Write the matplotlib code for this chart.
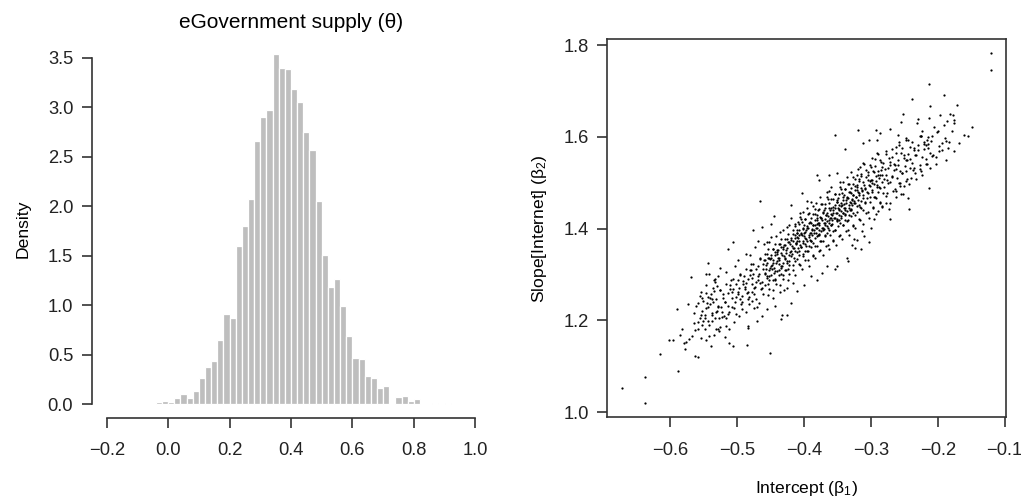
import numpy as np
import matplotlib.pyplot as plt

plt.rcParams['font.family'] = ['Liberation Sans', 'DejaVu Sans']
plt.rcParams['mathtext.fontset'] = 'custom'
plt.rcParams['mathtext.rm'] = 'Liberation Sans'
plt.rcParams['mathtext.it'] = 'Liberation Sans'

# posterior of theta, density per 0.02 bin (first bin starts at -0.04)
bin_start = -0.04
bin_width = 0.02
theta_density = [0.017, 0.03, 0.02, 0.057, 0.10, 0.057, 0.13, 0.26, 0.37, 0.44,
                 0.65, 0.91, 0.87, 1.60, 1.80, 2.07, 2.66, 2.90, 2.97, 3.54,
                 3.40, 3.39, 3.19, 3.05, 2.75, 2.57, 2.05, 1.51, 1.18, 1.26,
                 0.99, 0.69, 0.47, 0.455, 0.28, 0.26, 0.16, 0.18, 0.0, 0.067,
                 0.08, 0.03, 0.047, 0.0, 0.0, 0.013, 0.0, 0.007]
theta_ticks = [-0.2, 0.0, 0.2, 0.4, 0.6, 0.8, 1.0]

# joint draws of intercept (beta1) and slope (beta2), "x y" pairs
draws_txt = """
-0.672 1.052 -0.638 1.019 -0.638 1.077 -0.588 1.090 -0.616 1.127 -0.559 1.121
-0.602 1.156 -0.596 1.156 -0.590 1.224 -0.582 1.182 -0.578 1.138 -0.569 1.294
-0.544 1.324 -0.573 1.235 -0.586 1.168 -0.580 1.151 -0.572 1.159 -0.567 1.166
-0.565 1.195 -0.556 1.204 -0.559 1.180 -0.554 1.162 -0.548 1.180 -0.542 1.166
-0.539 1.143 -0.518 1.164 -0.512 1.180 -0.512 1.150 -0.531 1.182 -0.528 1.182
-0.554 1.212 -0.551 1.198 -0.552 1.220 -0.559 1.238 -0.552 1.249 -0.545 1.238
-0.537 1.246 -0.537 1.217 -0.530 1.220 -0.527 1.206 -0.525 1.267 -0.520 1.209
-0.546 1.260 -0.542 1.300 -0.535 1.289 -0.530 1.275 -0.526 1.315 -0.451 1.128
-0.484 1.184 -0.485 1.147 -0.506 1.144 -0.434 1.202 -0.563 1.122 -0.576 1.153
-0.506 1.371 -0.514 1.356 -0.546 1.302 -0.533 1.291 -0.465 1.461 -0.420 1.451
-0.476 1.398 -0.463 1.404 -0.450 1.409 -0.445 1.427 -0.403 1.478 -0.395 1.460
-0.378 1.507 -0.363 1.518 -0.350 1.522 -0.380 1.518 -0.323 1.357 -0.336 1.337
-0.354 1.311 -0.365 1.318 -0.400 1.278 -0.425 1.211 -0.433 1.211 -0.483 1.187
-0.325 1.377 -0.350 1.318 -0.373 1.304 -0.380 1.289 -0.390 1.296 -0.410 1.264
-0.420 1.238 -0.430 1.267 -0.443 1.231 -0.455 1.224 -0.463 1.209 -0.470 1.198
-0.478 1.242 -0.303 1.371 -0.315 1.355 -0.334 1.329 -0.271 1.422 -0.243 1.442
-0.213 1.489 -0.353 1.605 -0.319 1.616 -0.120 1.783 -0.120 1.745 -0.148 1.622
-0.161 1.604 -0.155 1.603 -0.168 1.587 -0.188 1.549 -0.213 1.715 -0.191 1.691
-0.239 1.683 -0.171 1.670 -0.212 1.667 -0.252 1.650 -0.196 1.647 -0.182 1.649
-0.177 1.647 -0.213 1.642 -0.229 1.640 -0.255 1.632 -0.231 1.631 -0.186 1.634
-0.176 1.631 -0.293 1.615 -0.286 1.608 -0.271 1.618 -0.259 1.605 -0.338 1.573
-0.311 1.587 -0.303 1.593 -0.291 1.593 -0.175 1.569 -0.203 1.542 -0.198 1.569
-0.200 1.613 -0.194 1.587 -0.188 1.591 -0.184 1.576 -0.215 1.576 -0.225 1.602
-0.220 1.584 -0.210 1.591 -0.208 1.558 -0.218 1.540 -0.225 1.525 -0.235 1.533
-0.240 1.511 -0.248 1.525 -0.250 1.493 -0.258 1.500 -0.244 1.467 -0.255 1.475
-0.263 1.482 -0.278 1.456 -0.283 1.449 -0.290 1.438 -0.295 1.420 -0.273 1.442
-0.300 1.402 -0.313 1.395 -0.310 1.384 -0.320 1.376 -0.328 1.365
-0.563 1.178 -0.561 1.232 -0.558 1.196 -0.556 1.254 -0.564 1.215
-0.553 1.189 -0.551 1.243 -0.548 1.205 -0.547 1.226 -0.554 1.262
-0.543 1.198 -0.541 1.236 -0.538 1.212 -0.536 1.271 -0.544 1.250
-0.533 1.206 -0.531 1.247 -0.528 1.228 -0.526 1.185 -0.534 1.263
-0.523 1.219 -0.521 1.258 -0.518 1.241 -0.516 1.279 -0.524 1.230 -0.517 1.204
-0.513 1.231 -0.511 1.268 -0.508 1.249 -0.506 1.291 -0.514 1.214 -0.507 1.262
-0.503 1.241 -0.501 1.279 -0.498 1.258 -0.496 1.302 -0.504 1.226 -0.497 1.271
-0.502 1.213 -0.499 1.289 -0.495 1.247
-0.493 1.252 -0.491 1.286 -0.488 1.268 -0.486 1.311 -0.494 1.235 -0.487 1.281
-0.492 1.224 -0.489 1.297 -0.485 1.259
-0.483 1.262 -0.481 1.299 -0.478 1.279 -0.476 1.323 -0.484 1.246 -0.477 1.292
-0.482 1.236 -0.479 1.309 -0.475 1.271 -0.480 1.342
-0.473 1.273 -0.471 1.311 -0.468 1.289 -0.466 1.334 -0.474 1.257 -0.467 1.302
-0.472 1.246 -0.469 1.319 -0.465 1.281 -0.470 1.228
-0.463 1.284 -0.461 1.322 -0.458 1.301 -0.456 1.345 -0.464 1.268 -0.457 1.313
-0.462 1.257 -0.459 1.331 -0.455 1.292 -0.460 1.366
-0.453 1.296 -0.451 1.333 -0.448 1.312 -0.446 1.356 -0.454 1.279 -0.447 1.324
-0.452 1.268 -0.449 1.342 -0.445 1.303 -0.450 1.318 -0.447 1.289 -0.454 1.337
-0.452 1.371 -0.446 1.249
-0.443 1.307 -0.441 1.344 -0.438 1.323 -0.436 1.367 -0.444 1.291 -0.437 1.335
-0.442 1.279 -0.439 1.353 -0.435 1.314 -0.440 1.329 -0.437 1.298 -0.444 1.349
-0.442 1.384 -0.436 1.262
-0.433 1.318 -0.431 1.355 -0.428 1.334 -0.426 1.378 -0.434 1.302 -0.427 1.346
-0.432 1.290 -0.429 1.364 -0.425 1.325 -0.430 1.341 -0.427 1.309 -0.434 1.360
-0.432 1.396 -0.426 1.271
-0.423 1.329 -0.421 1.366 -0.418 1.345 -0.416 1.389 -0.424 1.313 -0.417 1.357
-0.422 1.301 -0.419 1.375 -0.415 1.336 -0.420 1.352 -0.417 1.320 -0.424 1.371
-0.422 1.407 -0.416 1.282
-0.414 1.299 -0.408 1.322 -0.411 1.334 -0.407 1.343 -0.413 1.351 -0.409 1.358
-0.406 1.364 -0.412 1.369 -0.410 1.374 -0.414 1.379 -0.408 1.385 -0.411 1.391
-0.407 1.398 -0.413 1.405 -0.409 1.414 -0.406 1.426 -0.412 1.367 -0.410 1.382
-0.403 1.313 -0.398 1.331 -0.401 1.345 -0.396 1.352 -0.404 1.360 -0.399 1.366
-0.402 1.372 -0.397 1.377 -0.400 1.383 -0.404 1.388 -0.398 1.393 -0.401 1.399
-0.396 1.406 -0.403 1.414 -0.399 1.422 -0.402 1.437 -0.397 1.363 -0.400 1.390
-0.392 1.318 -0.387 1.340 -0.394 1.351 -0.389 1.361 -0.386 1.369 -0.391 1.376
-0.393 1.381 -0.388 1.386 -0.390 1.391 -0.385 1.396 -0.394 1.402 -0.387 1.408
-0.391 1.415 -0.389 1.424 -0.393 1.434 -0.386 1.449 -0.390 1.373 -0.388 1.399
-0.383 1.336 -0.377 1.351 -0.381 1.363 -0.376 1.372 -0.384 1.379 -0.379 1.385
-0.382 1.391 -0.378 1.396 -0.380 1.401 -0.384 1.407 -0.377 1.412 -0.381 1.418
-0.376 1.425 -0.383 1.432 -0.379 1.441 -0.382 1.456 -0.378 1.388 -0.380 1.410
-0.372 1.342 -0.367 1.362 -0.374 1.374 -0.369 1.383 -0.366 1.390 -0.371 1.396
-0.373 1.402 -0.368 1.407 -0.370 1.412 -0.365 1.417 -0.374 1.423 -0.367 1.429
-0.371 1.436 -0.369 1.444 -0.373 1.454 -0.366 1.468 -0.370 1.399 -0.368 1.420
-0.363 1.356 -0.357 1.372 -0.361 1.385 -0.356 1.394 -0.364 1.401 -0.359 1.407
-0.362 1.413 -0.358 1.418 -0.360 1.423 -0.364 1.428 -0.357 1.434 -0.361 1.440
-0.356 1.447 -0.363 1.455 -0.359 1.465 -0.362 1.481 -0.358 1.410 -0.360 1.431
-0.352 1.365 -0.347 1.384 -0.354 1.396 -0.349 1.405 -0.346 1.412 -0.351 1.418
-0.353 1.424 -0.348 1.429 -0.350 1.434 -0.345 1.439 -0.354 1.445 -0.347 1.451
-0.351 1.458 -0.349 1.466 -0.353 1.476 -0.346 1.490 -0.350 1.421 -0.348 1.442
-0.343 1.378 -0.337 1.395 -0.341 1.407 -0.336 1.416 -0.344 1.423 -0.339 1.429
-0.342 1.435 -0.338 1.440 -0.340 1.445 -0.344 1.450 -0.337 1.456 -0.341 1.462
-0.336 1.469 -0.343 1.477 -0.339 1.487 -0.342 1.502 -0.338 1.432 -0.340 1.453
-0.332 1.386 -0.327 1.406 -0.334 1.418 -0.329 1.427 -0.326 1.434 -0.331 1.440
-0.333 1.446 -0.328 1.451 -0.330 1.456 -0.325 1.461 -0.334 1.467 -0.327 1.473
-0.331 1.480 -0.329 1.488 -0.333 1.498 -0.326 1.513 -0.330 1.443 -0.328 1.464
-0.323 1.401 -0.317 1.422 -0.321 1.436 -0.316 1.447 -0.324 1.455 -0.319 1.463
-0.322 1.470 -0.318 1.477 -0.320 1.485 -0.324 1.494 -0.317 1.503 -0.321 1.516
-0.319 1.531
-0.312 1.409 -0.307 1.433 -0.314 1.446 -0.309 1.457 -0.306 1.466 -0.311 1.474
-0.313 1.481 -0.308 1.488 -0.310 1.496 -0.305 1.505 -0.314 1.514 -0.307 1.527
-0.311 1.544
-0.303 1.423 -0.297 1.444 -0.301 1.457 -0.296 1.468 -0.304 1.477 -0.299 1.485
-0.302 1.492 -0.298 1.499 -0.300 1.507 -0.304 1.516 -0.297 1.525 -0.301 1.538
-0.299 1.553
-0.292 1.431 -0.287 1.455 -0.294 1.468 -0.289 1.479 -0.286 1.488 -0.291 1.496
-0.293 1.503 -0.288 1.510 -0.290 1.518 -0.285 1.527 -0.294 1.536 -0.287 1.549
-0.291 1.566
-0.283 1.447 -0.277 1.472 -0.281 1.491 -0.276 1.505 -0.284 1.517 -0.279 1.529
-0.282 1.543 -0.278 1.562
-0.272 1.455 -0.267 1.481 -0.274 1.500 -0.269 1.514 -0.266 1.527 -0.271 1.539
-0.273 1.553 -0.268 1.574
-0.263 1.468 -0.257 1.492 -0.261 1.511 -0.256 1.525 -0.264 1.538 -0.259 1.550
-0.262 1.564 -0.258 1.583
-0.252 1.476 -0.247 1.503 -0.254 1.521 -0.249 1.536 -0.246 1.549 -0.251 1.561
-0.253 1.575 -0.248 1.594
-0.243 1.498 -0.237 1.527 -0.241 1.552 -0.236 1.571 -0.244 1.594
-0.232 1.509 -0.227 1.538 -0.234 1.561 -0.229 1.582 -0.226 1.603
-0.223 1.518 -0.217 1.551 -0.221 1.573 -0.216 1.594 -0.224 1.612
-0.212 1.532 -0.207 1.561 -0.214 1.584 -0.209 1.603 -0.206 1.622
-0.203 1.556 -0.198 1.581 -0.201 1.611 -0.193 1.572 -0.189 1.598 -0.191 1.625
-0.183 1.588 -0.179 1.614 -0.176 1.636
-0.454 1.255 -0.458 1.276 -0.452 1.287 -0.456 1.296 -0.459 1.303 -0.453 1.309
-0.451 1.315 -0.457 1.320 -0.455 1.325 -0.460 1.331 -0.452 1.337 -0.458 1.344
-0.454 1.355 -0.456 1.370
-0.447 1.266 -0.443 1.287 -0.449 1.298 -0.441 1.307 -0.445 1.314 -0.448 1.320
-0.442 1.326 -0.446 1.331 -0.450 1.336 -0.444 1.342 -0.441 1.348 -0.447 1.355
-0.443 1.366 -0.449 1.381
-0.436 1.277 -0.432 1.298 -0.438 1.309 -0.434 1.318 -0.431 1.325 -0.437 1.331
-0.439 1.337 -0.433 1.342 -0.435 1.347 -0.440 1.353 -0.432 1.359 -0.438 1.366
-0.434 1.377 -0.436 1.392
-0.424 1.288 -0.428 1.309 -0.422 1.320 -0.426 1.329 -0.429 1.336 -0.423 1.342
-0.421 1.348 -0.427 1.353 -0.425 1.358 -0.430 1.364 -0.422 1.370 -0.428 1.377
-0.424 1.388 -0.426 1.403
-0.417 1.309 -0.413 1.330 -0.419 1.341 -0.411 1.350 -0.415 1.357 -0.418 1.363
-0.412 1.369 -0.416 1.374 -0.420 1.379 -0.414 1.385 -0.411 1.391 -0.417 1.398
-0.413 1.409 -0.419 1.424
-0.406 1.320 -0.402 1.341 -0.408 1.352 -0.404 1.361 -0.401 1.368 -0.407 1.374
-0.409 1.380 -0.403 1.385 -0.405 1.390 -0.410 1.396 -0.402 1.402 -0.408 1.409
-0.404 1.420 -0.406 1.435
-0.394 1.331 -0.398 1.352 -0.392 1.363 -0.396 1.372 -0.399 1.379 -0.393 1.385
-0.391 1.391 -0.397 1.396 -0.395 1.401 -0.400 1.407 -0.392 1.413 -0.398 1.420
-0.394 1.431 -0.396 1.446
-0.387 1.342 -0.383 1.363 -0.389 1.374 -0.381 1.383 -0.385 1.390 -0.388 1.396
-0.382 1.402 -0.386 1.407 -0.390 1.412 -0.384 1.418 -0.381 1.424 -0.387 1.431
-0.383 1.442 -0.389 1.457
-0.376 1.353 -0.372 1.374 -0.378 1.385 -0.374 1.394 -0.371 1.401 -0.377 1.407
-0.379 1.413 -0.373 1.418 -0.375 1.423 -0.380 1.429 -0.372 1.435 -0.378 1.442
-0.374 1.453 -0.376 1.468
-0.364 1.364 -0.368 1.385 -0.362 1.396 -0.366 1.405 -0.369 1.412 -0.363 1.418
-0.361 1.424 -0.367 1.429 -0.365 1.434 -0.370 1.440 -0.362 1.446 -0.368 1.453
-0.364 1.464 -0.366 1.479
-0.357 1.375 -0.353 1.396 -0.359 1.407 -0.351 1.416 -0.355 1.423 -0.358 1.429
-0.352 1.435 -0.356 1.440 -0.360 1.445 -0.354 1.451 -0.351 1.457 -0.357 1.464
-0.353 1.475 -0.359 1.490
-0.346 1.386 -0.342 1.407 -0.348 1.418 -0.344 1.427 -0.341 1.434 -0.347 1.440
-0.349 1.446 -0.343 1.451 -0.345 1.456 -0.350 1.462 -0.342 1.468 -0.348 1.475
-0.344 1.486 -0.346 1.501
-0.334 1.397 -0.338 1.418 -0.332 1.429 -0.336 1.438 -0.339 1.445 -0.333 1.451
-0.331 1.457 -0.337 1.462 -0.335 1.467 -0.340 1.473 -0.332 1.479 -0.338 1.486
-0.334 1.497 -0.336 1.512
-0.327 1.408 -0.323 1.429 -0.329 1.440 -0.321 1.449 -0.325 1.456 -0.328 1.462
-0.322 1.468 -0.326 1.473 -0.330 1.478 -0.324 1.484 -0.321 1.490 -0.327 1.497
-0.323 1.508 -0.329 1.523
-0.316 1.419 -0.312 1.440 -0.318 1.451 -0.314 1.460 -0.311 1.467 -0.317 1.473
-0.319 1.479 -0.313 1.484 -0.315 1.489 -0.320 1.495 -0.312 1.501 -0.318 1.508
-0.314 1.519 -0.316 1.534
-0.304 1.436 -0.308 1.455 -0.302 1.468 -0.306 1.479 -0.309 1.487 -0.303 1.495
-0.301 1.503 -0.307 1.512 -0.305 1.524 -0.310 1.541
-0.297 1.447 -0.293 1.466 -0.299 1.479 -0.291 1.490 -0.295 1.498 -0.298 1.506
-0.292 1.514 -0.296 1.523 -0.300 1.535 -0.294 1.552
-0.286 1.458 -0.282 1.477 -0.288 1.490 -0.284 1.501 -0.281 1.509 -0.287 1.517
-0.289 1.525 -0.283 1.534 -0.285 1.546 -0.290 1.563
-0.276 1.478 -0.272 1.501 -0.278 1.517 -0.274 1.532 -0.271 1.546 -0.277 1.569
-0.264 1.486 -0.268 1.512 -0.262 1.529 -0.266 1.541 -0.269 1.556 -0.263 1.578
-0.257 1.499 -0.253 1.522 -0.259 1.538 -0.251 1.553 -0.255 1.566 -0.258 1.589
-0.246 1.509 -0.242 1.533 -0.248 1.549 -0.244 1.562 -0.241 1.577 -0.247 1.598
-0.234 1.521 -0.238 1.543 -0.232 1.561 -0.236 1.576 -0.239 1.589
-0.227 1.529 -0.223 1.556 -0.229 1.572 -0.221 1.588 -0.225 1.603
-0.216 1.541 -0.212 1.566 -0.218 1.583 -0.214 1.599
-0.546 1.158 -0.542 1.189 -0.548 1.211 -0.544 1.229 -0.541 1.248 -0.547 1.276
-0.534 1.169 -0.538 1.198 -0.532 1.219 -0.536 1.239 -0.539 1.257 -0.533 1.284
-0.527 1.176 -0.523 1.207 -0.529 1.231 -0.521 1.248 -0.525 1.266 -0.528 1.297
-0.516 1.188 -0.512 1.219 -0.518 1.241 -0.514 1.259 -0.511 1.277 -0.517 1.306
-0.504 1.196 -0.508 1.228 -0.502 1.251 -0.506 1.268 -0.509 1.288 -0.503 1.319
-0.497 1.209 -0.493 1.239 -0.499 1.262 -0.491 1.279 -0.495 1.298 -0.498 1.331
-0.486 1.218 -0.482 1.250 -0.488 1.273 -0.484 1.290 -0.481 1.309 -0.487 1.345
-0.474 1.226 -0.478 1.261 -0.472 1.284 -0.476 1.301 -0.479 1.322 -0.473 1.359
-0.467 1.237 -0.463 1.271 -0.469 1.296 -0.461 1.313 -0.465 1.335 -0.468 1.372
"""
draws = np.array(draws_txt.split(), dtype=float).reshape(-1, 2)
intercept = draws[:, 0]
slope = draws[:, 1]
intercept_ticks = [-0.6, -0.5, -0.4, -0.3, -0.2, -0.1]
slope_ticks = [1.0, 1.2, 1.4, 1.6, 1.8]

axis_col = '#333333'

fig = plt.figure(figsize=(10.21, 5.04), dpi=100)

# left panel: histogram
ax1 = fig.add_axes([0.0901, 0.1706, 0.3898, 0.750])
edges = bin_start + bin_width * np.arange(len(theta_density))
ax1.bar(edges, theta_density, width=bin_width, align='edge',
        color='#bebebe', edgecolor='white', linewidth=0.9)
ymax = max(theta_density)
ax1.set_ylim(-0.04 * ymax, 1.04 * ymax)
span = theta_ticks[-1] - theta_ticks[0]
ax1.set_xlim(theta_ticks[0] - 0.04 * span, theta_ticks[-1] + 0.04 * span)
ax1.set_xticks(theta_ticks)
ax1.set_yticks([0.0, 0.5, 1.0, 1.5, 2.0, 2.5, 3.0, 3.5])
for side in ['top', 'right']:
    ax1.spines[side].set_visible(False)
ax1.spines['left'].set_bounds(0.0, 3.5)
ax1.spines['bottom'].set_bounds(theta_ticks[0], theta_ticks[-1])
ax1.set_title('eGovernment supply (θ)', fontsize=15, pad=9)
ax1.set_ylabel('Density', fontsize=12.6, labelpad=12)

# right panel: scatter
ax2 = fig.add_axes([0.5948, 0.172, 0.3905, 0.7506])
ax2.scatter(intercept, slope, s=2.6, c='black', marker='o', linewidths=0)
xr = intercept.max() - intercept.min()
yr = slope.max() - slope.min()
ax2.set_xlim(intercept.min() - 0.04 * xr, intercept.max() + 0.04 * xr)
ax2.set_ylim(slope.min() - 0.04 * yr, slope.max() + 0.04 * yr)
ax2.set_xticks(intercept_ticks)
ax2.set_yticks(slope_ticks)
ax2.set_xlabel(r'Intercept ($\beta_1$)', fontsize=12.6, labelpad=15)
ax2.set_ylabel(r'Slope[Internet] ($\beta_2$)', fontsize=12.6, labelpad=10)

for ax in (ax1, ax2):
    for sp in ax.spines.values():
        sp.set_color(axis_col)
        sp.set_linewidth(1.2)
    ax.tick_params(direction='out', length=7.5, width=1.2, color=axis_col,
                   labelsize=13.2, labelcolor='#222222')
    ax.tick_params(axis='x', pad=10)
    ax.tick_params(axis='y', pad=6)

fig.savefig('out.png', dpi=100)
